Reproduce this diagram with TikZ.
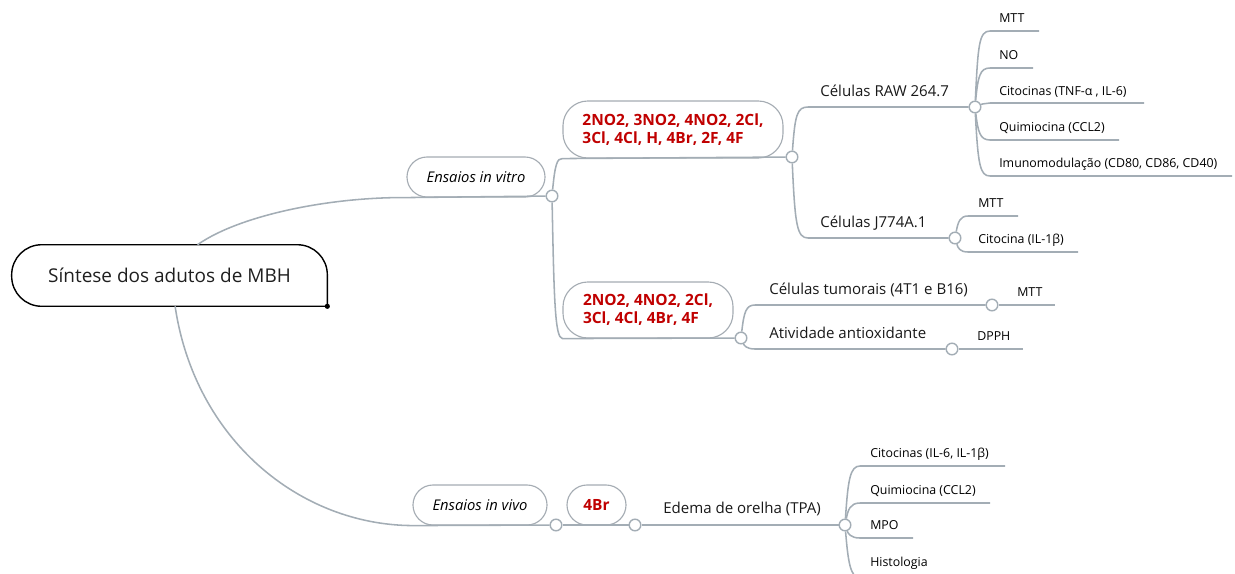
\documentclass[tikz,border=0pt]{standalone}
\usepackage{fontspec}
\setmainfont{Open Sans}
\definecolor{linec}{HTML}{A3ADB5}
\definecolor{boxc}{HTML}{A5ACB3}
\definecolor{redt}{HTML}{C00000}

\begin{document}
\begin{tikzpicture}[x=0.025cm,y=-0.025cm,
  con/.style={draw=linec,line width=1.1pt},
  knob/.style={circle,draw=linec,fill=white,line width=1pt,minimum size=0.29cm,inner sep=0pt},
  pill/.style={draw=boxc,fill=white,line width=0.8pt,rounded corners=0.5cm,inner sep=0pt},
  grp/.style={pill,text=redt,font=\fontsize{11}{12.8}\selectfont\bfseries,align=left},
  lvl/.style={anchor=base west,inner sep=0pt,text=black!90,font=\fontsize{10.7}{12}\selectfont},
  leaf/.style={anchor=base west,inner sep=0pt,font=\fontsize{8.8}{10}\selectfont}]
\useasboundingbox (0,0) rectangle (1235,573);

\node[minimum width=7.875cm,minimum height=1.525cm,inner sep=0pt,text=black!88,font=\fontsize{13.5}{16}\selectfont] (q0) at (169.5,275.5) {Síntese dos adutos de MBH};
\draw[line width=1pt] (q0.south east) [rounded corners=0.75cm] -- (q0.north east) -- (q0.north west) -- (q0.south west) -- (q0.south) [sharp corners] -- (q0.south east);
\fill (q0.south east) circle (0.065cm);

\node[pill,minimum width=3.45cm,minimum height=1cm,font=\fontsize{10.5}{12}\selectfont\itshape] (q1) at (476,177) {Ensaios in vitro};
\node[grp,minimum width=5.5cm,minimum height=1.425cm,rounded corners=0.62cm] (q2) at (673,129.5) {2NO2, 3NO2, 4NO2, 2Cl,\\3Cl, 4Cl, H, 4Br, 2F, 4F};
\node[grp,minimum width=4.25cm,minimum height=1.4cm,rounded corners=0.62cm] (q3) at (648,310) {2NO2, 4NO2, 2Cl,\\3Cl, 4Cl, 4Br, 4F};
\node[pill,minimum width=3.35cm,minimum height=1cm,font=\fontsize{10.5}{12}\selectfont\itshape] (q4) at (480,505) {Ensaios in vivo};
\node[grp,minimum width=1.475cm,minimum height=1cm] (q5) at (596.5,505) {4Br};

\node[knob] (k1) at (552,196) {};
\node[knob] (k2) at (556,525) {};
\node[knob] (k3) at (792,157) {};
\node[knob] (k4) at (741,338) {};
\node[knob] (k5) at (975,107) {};
\node[knob] (k6) at (955,238) {};
\node[knob] (k7) at (992,305) {};
\node[knob] (k8) at (952,349) {};
\node[knob] (k9) at (635,525) {};
\node[knob] (k10) at (845,525) {};

\node[lvl] (t1) at (820,96) {Células RAW 264.7};
\node[lvl] (t2) at (820,227) {Células J774A.1};
\node[lvl] (t3) at (769,294) {Células tumorais (4T1 e B16)};
\node[lvl] (t4) at (769,338) {Atividade antioxidante};
\node[lvl] (t5) at (663,513) {Edema de orelha (TPA)};

\node[leaf] (m1) at (999,22.5) {MTT};
\node[leaf] (m2) at (999,59.5) {NO};
\node[leaf] (m3) at (999,95) {Citocinas (TNF-α , IL-6)};
\node[leaf] (m4) at (999,131.5) {Quimiocina (CCL2)};
\node[leaf] (m5) at (999,167.5) {Imunomodulação (CD80, CD86, CD40)};
\node[leaf] (m6) at (978,207.5) {MTT};
\node[leaf] (m7) at (978,243.5) {Citocina (IL-1β)};
\node[leaf] (m8) at (1017,296.5) {MTT};
\node[leaf] (m9) at (977,340.5) {DPPH};
\node[leaf] (m10) at (870,457.5) {Citocinas (IL-6, IL-1β)};
\node[leaf] (m11) at (870,494.5) {Quimiocina (CCL2)};
\node[leaf] (m12) at (870,529.5) {MPO};
\node[leaf] (m13) at (870,566) {Histologia};

\coordinate (e1) at (1039,31);
\coordinate (e2) at (1033,68);
\coordinate (e3) at (1144,103);
\coordinate (e4) at (1119,140);
\coordinate (e5) at (1232,176);
\coordinate (e6) at (1018,216);
\coordinate (e7) at (1078,252);
\coordinate (e8) at (1055,305);
\coordinate (e9) at (1023,349);
\coordinate (e10) at (1005,466);
\coordinate (e11) at (990,503);
\coordinate (e12) at (913,538);
\coordinate (e13) at (960,578);

\draw[con] ([xshift=0.7cm]q0.north) .. controls (240,215) and (330,197) .. (q1.south west) -- (k1);
\draw[con] ([xshift=0.14cm]q0.south) .. controls (195,440) and (300,525) .. (q4.south west) -- (k2);
\draw[con] (k1) .. controls (555,165) and (557,158) .. (q2.south west) -- (k3);
\draw[con] (k1) .. controls (554,300) and (555,338) .. (q3.south west) -- (k4);
\draw[con] (k2) -- (k9);
\draw[con] (k9) -- (k10);

\draw[con] (k3) .. controls (795,115) and (797,107) .. (808,107) -- (k5);
\draw[con] (k3) .. controls (795,225) and (797,238) .. (808,238) -- (k6);
\draw[con] (k4) .. controls (744,312) and (746,305) .. (755,305) -- (k7);
\draw[con] (k4) .. controls (744,345) and (746,349) .. (755,349) -- (k8);
\draw[con] (k7) -- (e8);
\draw[con] (k8) -- (e9);

\draw[con] (k5) .. controls (978,45) and (979,31) .. (990,31) -- (e1);
\draw[con] (k5) .. controls (978,76) and (980,68) .. (990,68) -- (e2);
\draw[con] (k5) .. controls (982,104) .. (990,103) -- (e3);
\draw[con] (k5) .. controls (978,132) and (980,140) .. (990,140) -- (e4);
\draw[con] (k5) .. controls (978,165) and (980,176) .. (990,176) -- (e5);
\draw[con] (k6) .. controls (958,222) and (960,216) .. (968,216) -- (e6);
\draw[con] (k6) .. controls (958,248) and (960,252) .. (968,252) -- (e7);

\draw[con] (k10) .. controls (848,480) and (850,466) .. (860,466) -- (e10);
\draw[con] (k10) .. controls (848,510) and (850,503) .. (860,503) -- (e11);
\draw[con] (k10) .. controls (848,533) and (850,538) .. (860,538) -- (e12);
\draw[con] (k10) .. controls (848,560) and (850,578) .. (860,578) -- (e13);
\end{tikzpicture}
\end{document}
